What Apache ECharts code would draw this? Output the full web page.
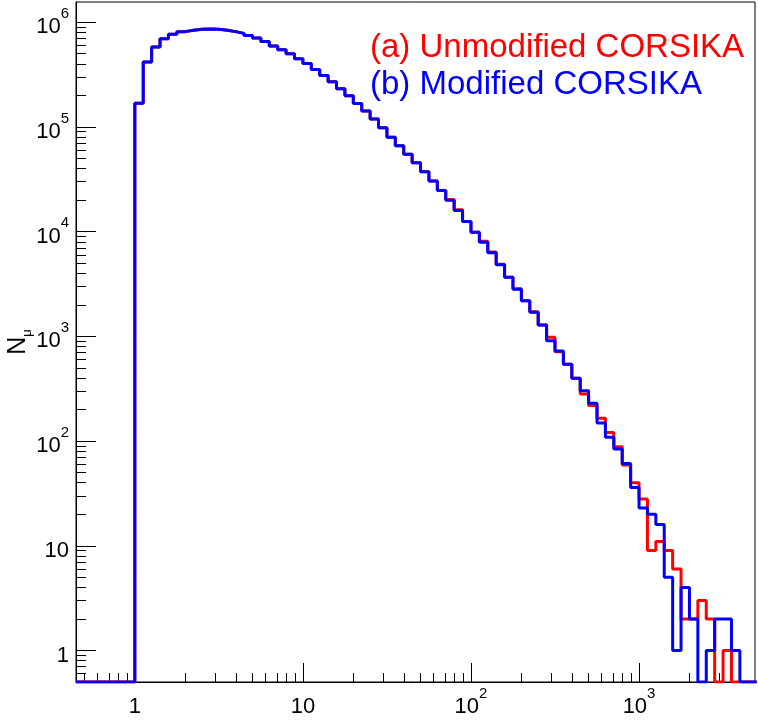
<!DOCTYPE html>
<html>
<head>
<meta charset="utf-8">
<script src="https://cdn.jsdelivr.net/npm/echarts@6/dist/echarts.min.js"></script>
<style>
  html, body { margin: 0; padding: 0; background: #fff; }
  #chart { width: 758px; height: 722px; }
</style>
</head>
<body>
<div id="chart"></div>
<script>
// ---- Histogram binning (log10 bins, 20 per decade) ----
const BIN_LOG_START = -0.35;   // first bin lower edge (log10)
const BIN_LOG_WIDTH = 0.05;    // bin width (log10)

// ---- Bin contents, bins from 10^-0.35 upwards ----
const unmodifiedCounts = [
  0, 0, 0, 0, 0, 0, 0,
  168000, 418000, 581000, 697000, 767000, 813000, 840000, 857000, 863000, 857000,
  840000, 813000, 782000, 748000, 708000, 653000, 594000, 547000, 501000, 449000,
  403000, 354000, 310000, 270000, 231000, 198000, 167000, 142000, 119000, 98400,
  79800, 66200, 54800, 45600, 37400, 30500, 24700, 20300, 16140, 12470,
  9860, 8090, 6400, 4875, 3664, 2851, 2193, 1722, 1285, 979,
  714, 542, 398, 282, 218, 165, 121, 88, 59, 40,
  28, 9, 11, 9, 6, 2, 2, 3, 2, 0,
  1, 0, 0, 0
];
const modifiedCounts = [
  0, 0, 0, 0, 0, 0, 0,
  168000, 418000, 581000, 697000, 767000, 813000, 840000, 857000, 863000, 857000,
  840000, 813000, 782000, 748000, 708000, 653000, 594000, 547000, 501000, 449000,
  403000, 354000, 310000, 270000, 231000, 198000, 167000, 142000, 119000, 98400,
  79800, 66200, 54800, 45600, 37400, 30500, 24700, 19950, 15900, 12470,
  9860, 7925, 6281, 4831, 3664, 2818, 2193, 1698, 1285, 910,
  726, 542, 398, 303, 230, 149, 109, 84, 61, 36,
  23, 20, 16, 5, 1, 4, 2, 0, 1, 2,
  2, 1, 0, 0
];

// ---- Axis ranges & ticks ----
const X_MIN = Math.pow(10, -0.35);
const X_MAX = Math.pow(10, 3.69);
const Y_MIN = 0.5;
const Y_MAX = 1.56e6;
const xMajorTicks = [1, 10, 100, 1000];
const xMinorTicks = [0.5, 0.6, 0.7, 0.8, 0.9, 2, 3, 4, 5, 6, 7, 8, 9,
  20, 30, 40, 50, 60, 70, 80, 90, 200, 300, 400, 500, 600, 700, 800, 900,
  2000, 3000, 4000];
const yMajorTicks = [1, 10, 100, 1000, 10000, 100000, 1000000];
const yMinorTicks = [0.6, 0.7, 0.8, 0.9, 2, 3, 4, 5, 6, 7, 8, 9,
  20, 30, 40, 50, 60, 70, 80, 90, 200, 300, 400, 500, 600, 700, 800, 900,
  2000, 3000, 4000, 5000, 6000, 7000, 8000, 9000,
  20000, 30000, 40000, 50000, 60000, 70000, 80000, 90000,
  200000, 300000, 400000, 500000, 600000, 700000, 800000, 900000];

const seriesNames = ['(a) Unmodified CORSIKA', '(b) Modified CORSIKA'];
const seriesColors = ['#ff0000', '#0000ff'];
const yTitleMain = 'N';
const yTitleSub = 'μ';

function stepData(counts) {
  const pts = [];
  for (let i = 0; i < counts.length; i++) {
    const edge = Math.pow(10, BIN_LOG_START + i * BIN_LOG_WIDTH);
    const v = counts[i] > 0 ? counts[i] : Y_MIN; // empty bins drawn on the frame floor
    pts.push([edge, v]);
  }
  const last = counts[counts.length - 1];
  pts.push([Math.pow(10, BIN_LOG_START + counts.length * BIN_LOG_WIDTH), last > 0 ? last : Y_MIN]);
  return pts;
}

function powLabel(v) {
  const e = Math.round(Math.log10(v));
  if (e === 0) return '{p|1}';
  if (e === 1) return '{p|10}';
  return '{b|10}{s|' + e + '}';
}

const FONT = 'Liberation Sans';
const richLabel = {
  p: { fontSize: 22, fontFamily: FONT, color: '#000', lineHeight: 32, verticalAlign: 'bottom' },
  b: { fontSize: 22, fontFamily: FONT, color: '#000', lineHeight: 32, verticalAlign: 'bottom' },
  s: { fontSize: 15, fontFamily: FONT, color: '#000', lineHeight: 32, verticalAlign: 'top' }
};

const chart = echarts.init(document.getElementById('chart'), null, { renderer: 'canvas' });

const option = {
  animation: false,
  backgroundColor: '#fff',
  grid: {
    left: 76, right: 3, top: 2, bottom: 40,
    containLabel: false, outerBoundsMode: 'none',
    show: true, borderColor: '#000', borderWidth: 1, backgroundColor: 'transparent'
  },
  xAxis: [
    {
      type: 'log', min: X_MIN, max: X_MAX, position: 'bottom',
      axisLine: { show: true, lineStyle: { color: '#000', width: 1 } },
      axisTick: { show: true, inside: true, length: 19, customValues: xMajorTicks, lineStyle: { color: '#000' } },
      axisLabel: { show: true, customValues: xMajorTicks, formatter: powLabel, rich: richLabel, margin: 4 },
      splitLine: { show: false }, minorTick: { show: false }
    },
    {
      type: 'log', min: X_MIN, max: X_MAX, position: 'bottom',
      axisLine: { show: false },
      axisTick: { show: true, inside: true, length: 9, customValues: xMinorTicks, lineStyle: { color: '#000' } },
      axisLabel: { show: false },
      splitLine: { show: false }
    }
  ],
  yAxis: [
    {
      type: 'log', min: Y_MIN, max: Y_MAX, position: 'left',
      axisLine: { show: true, lineStyle: { color: '#000', width: 1 } },
      axisTick: { show: true, inside: true, length: 20, customValues: yMajorTicks, lineStyle: { color: '#000' } },
      axisLabel: { show: true, customValues: yMajorTicks, formatter: powLabel, rich: richLabel, margin: 7 },
      splitLine: { show: false }, minorTick: { show: false }
    },
    {
      type: 'log', min: Y_MIN, max: Y_MAX, position: 'left',
      axisLine: { show: false },
      axisTick: { show: true, inside: true, length: 10, customValues: yMinorTicks, lineStyle: { color: '#000' } },
      axisLabel: { show: false },
      splitLine: { show: false }
    }
  ],
  series: [
    {
      name: seriesNames[0], type: 'line', step: 'end', xAxisIndex: 0, yAxisIndex: 0,
      data: stepData(unmodifiedCounts), showSymbol: false, symbol: 'none',
      lineStyle: { color: seriesColors[0], width: 3 }, clip: true, z: 2
    },
    {
      name: seriesNames[1], type: 'line', step: 'end', xAxisIndex: 0, yAxisIndex: 0,
      data: stepData(modifiedCounts), showSymbol: false, symbol: 'none',
      lineStyle: { color: seriesColors[1], width: 3 }, clip: true, z: 3
    }
  ],
  graphic: [
    { type: 'text', left: 370, top: 31, style: { text: seriesNames[0], fill: seriesColors[0], font: '33px "Liberation Sans"' } },
    { type: 'text', left: 370, top: 68, style: { text: seriesNames[1], fill: seriesColors[1], font: '33px "Liberation Sans"' } },
    {
      type: 'text', x: 20, y: 342, rotation: Math.PI / 2,
      style: {
        text: '{n|' + yTitleMain + '}{m|' + yTitleSub + '}',
        align: 'center', verticalAlign: 'middle',
        rich: {
          n: { fontSize: 25, fontFamily: FONT, fill: '#000', lineHeight: 28, verticalAlign: 'top' },
          m: { fontSize: 13, fontFamily: FONT, fill: '#000', lineHeight: 28, verticalAlign: 'bottom' }
        }
      }
    }
  ]
};
chart.setOption(option);
</script>
</body>
</html>
